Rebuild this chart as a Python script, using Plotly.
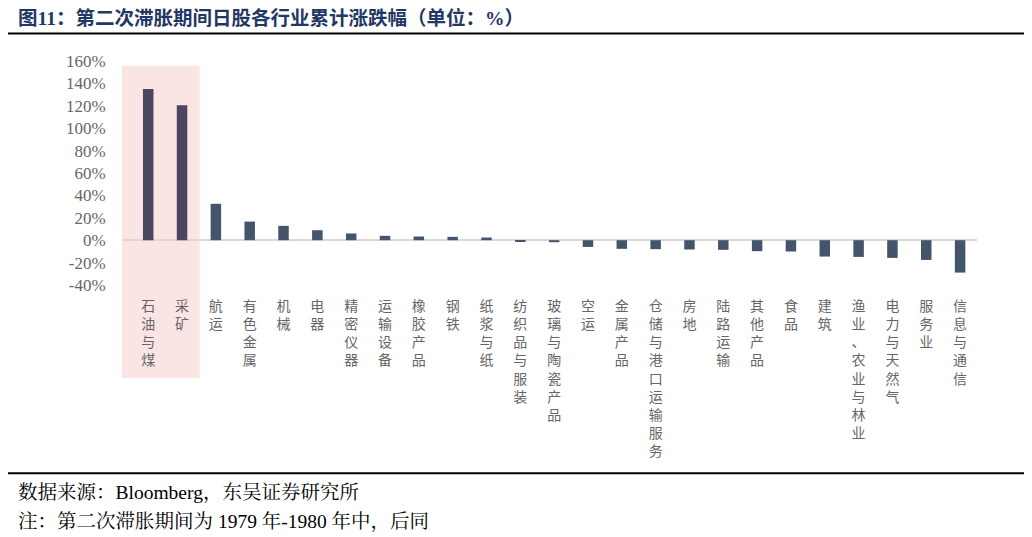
import plotly.graph_objects as go

categories = ["石油与煤", "采矿", "航运", "有色金属", "机械", "电器", "精密仪器", "运输设备",
              "橡胶产品", "钢铁", "纸浆与纸", "纺织品与服装", "玻璃与陶瓷产品", "空运", "金属产品",
              "仓储与港口运输服务", "房地", "陆路运输", "其他产品", "食品", "建筑", "渔业、农业与林业",
              "电力与天然气", "服务业", "信息与通信"]
values = [135.0, 120.6, 32.5, 16.6, 12.8, 8.9, 6.0, 3.9, 3.3, 3.0, 2.4, -0.9, -1.8, -6.0, -7.7,
          -8.0, -8.3, -8.6, -9.8, -10.1, -14.6, -14.9, -15.8, -17.6, -28.9]
highlight = ["石油与煤", "采矿"]
ytick_vals = [-40, -20, 0, 20, 40, 60, 80, 100, 120, 140, 160]
ytick_text = [f"{v}%" for v in ytick_vals]

title_text = "图11：第二次滞胀期间日股各行业累计涨跌幅（单位：%）"
source_text = "数据来源：Bloomberg，东吴证券研究所"
note_text = "注：第二次滞胀期间为 1979 年-1980 年中，后同"

colors = ["#4b4760" if c in highlight else "#44546a" for c in categories]
ticktext = ["<br>".join(list(c)) for c in categories]

# page body adds an 8px offset; design in window pixels and subtract it
OFF = 8
W, H = 1032, 537
L, T = 122 - OFF, 61 - OFF
R = W - (977 - OFF)
B = H - (285 - OFF)
pw, ph = W - L - R, H - T - B

def px_x(p):
    return (p - OFF - L) / pw

def px_y(p):
    return (H - B - (p - OFF)) / ph

serif = "Liberation Serif, Noto Serif CJK SC, Noto Sans CJK SC"

fig = go.Figure()
fig.add_trace(go.Bar(x=categories, y=values, marker=dict(color=colors, line=dict(width=0)),
                     hoverinfo="x+y"))

fig.update_layout(
    width=W, height=H,
    margin=dict(l=L, r=R, t=T, b=B),
    paper_bgcolor="white", plot_bgcolor="rgba(0,0,0,0)",
    bargap=0.69,
    showlegend=False,
    font=dict(family=serif, color="#666666"),
    xaxis=dict(type="category", tickvals=categories, ticktext=ticktext,
               tickfont=dict(family="Noto Sans CJK SC", size=14, color="#666666"),
               ticks="outside", ticklen=8, tickcolor="rgba(0,0,0,0)",
               showgrid=False, showline=False, zeroline=False, tickangle=0),
    yaxis=dict(range=[-40, 160], tickvals=ytick_vals, ticktext=ytick_text,
               tickfont=dict(family=serif, size=17, color="#666666"),
               ticks="outside", ticklen=12, tickcolor="rgba(0,0,0,0)",
               showgrid=False, showline=False,
               zeroline=True, zerolinecolor="#d9d9d9", zerolinewidth=2),
)

# highlight box
fig.add_shape(type="rect", xref="x", yref="paper", x0=-0.775, x1=1.52,
              y0=px_y(378.3), y1=px_y(65.7), fillcolor="#fae4e4",
              line=dict(width=0), layer="below")
# header and footer rules
for yy in (33.5, 473.3):
    fig.add_shape(type="line", xref="paper", yref="paper", x0=px_x(5), x1=px_x(1025),
                  y0=px_y(yy), y1=px_y(yy), line=dict(color="black", width=2))

fig.add_annotation(text=title_text, xref="paper", yref="paper", x=px_x(16), y=px_y(18),
                   xanchor="left", yanchor="middle", showarrow=False,
                   font=dict(family="Liberation Serif, Noto Sans CJK SC", size=19.5,
                             color="#1f3864", weight="bold"))
fig.add_annotation(text=source_text, xref="paper", yref="paper", x=px_x(16), y=px_y(492),
                   xanchor="left", yanchor="middle", showarrow=False,
                   font=dict(family=serif, size=19.5, color="#000000"))
fig.add_annotation(text=note_text, xref="paper", yref="paper", x=px_x(16), y=px_y(521.5),
                   xanchor="left", yanchor="middle", showarrow=False,
                   font=dict(family=serif, size=19.5, color="#000000"))

fig.write_html("out.html")
